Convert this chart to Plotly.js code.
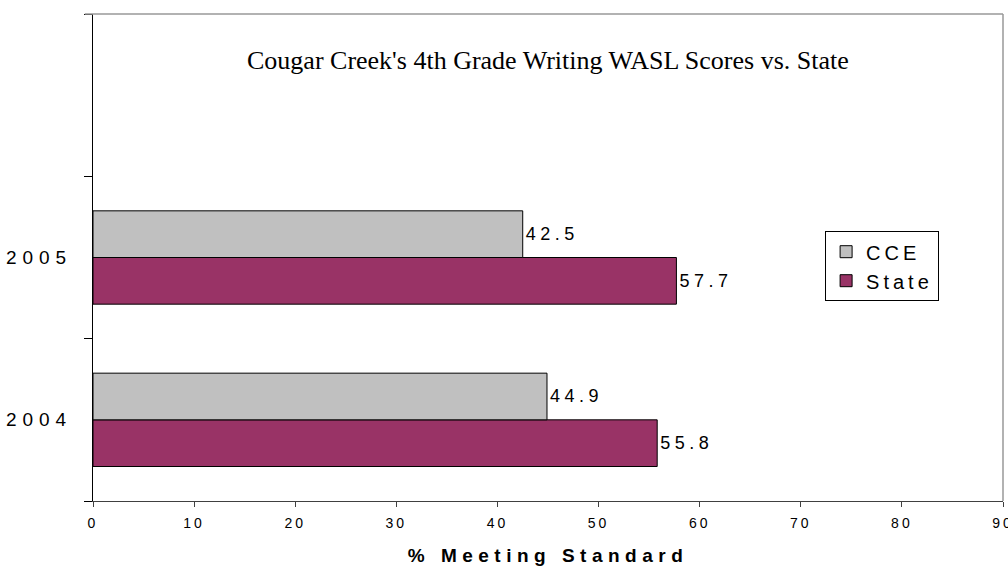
<!DOCTYPE html>
<html>
<head>
<meta charset="utf-8">
<script src="https://cdn.plot.ly/plotly-3.0.1.min.js"></script>
<style>
  html, body { margin: 0; padding: 0; background: #fff; }
  #chart { width: 1008px; height: 569px; }
  .bartext { letter-spacing: 4.5px; }
  .ytick text { letter-spacing: 6px; }
  .xtick text { letter-spacing: 3px; }
  .legendtext { letter-spacing: 4px; }
  .g-xtitle text { letter-spacing: 5.5px; }
</style>
</head>
<body>
<div id="chart"></div>
<script>
// Data
const years = ['2004', '2005'];
const cceScores = [44.9, 42.5];
const stateScores = [55.8, 57.7];
const seriesNames = ['CCE', 'State'];
const xTickVals = [0, 10, 20, 30, 40, 50, 60, 70, 80, 90];

const yIdx = years.map((_, i) => i);
const sans = 'Liberation Sans, Arial, sans-serif';

const traces = [
  {
    type: 'bar', orientation: 'h', name: seriesNames[1],
    y: yIdx, x: stateScores,
    marker: { color: '#993366', line: { color: '#000', width: 1 } },
    text: stateScores.map(v => v.toFixed(1)), textposition: 'outside',
    textfont: { family: sans, size: 18, color: '#000' },
    cliponaxis: false, hoverinfo: 'skip'
  },
  {
    type: 'bar', orientation: 'h', name: seriesNames[0],
    y: yIdx, x: cceScores,
    marker: { color: '#C0C0C0', line: { color: '#000', width: 1 } },
    text: cceScores.map(v => v.toFixed(1)), textposition: 'outside',
    textfont: { family: sans, size: 18, color: '#000' },
    cliponaxis: false, hoverinfo: 'skip'
  }
];

const layout = {
  width: 1008, height: 569,
  margin: { l: 93, r: 5, t: 14, b: 68, pad: 0 },
  paper_bgcolor: '#fff', plot_bgcolor: '#fff',
  barmode: 'group', bargap: 0.425, bargroupgap: 0,
  showlegend: true,
  legend: {
    x: 0.8045, y: 0.554, xanchor: 'left', yanchor: 'top',
    bordercolor: '#000', borderwidth: 1, bgcolor: '#fff',
    traceorder: 'reversed',
    font: { family: sans, size: 20, color: '#000' },
    itemwidth: 30, tracegroupgap: 0
  },
  annotations: [{
    text: "Cougar Creek's 4th Grade Writing WASL Scores vs. State",
    xref: 'paper', yref: 'paper', x: 0.5, y: 0.905,
    xanchor: 'center', yanchor: 'middle', showarrow: false,
    font: { family: 'Liberation Serif, Times New Roman, serif', size: 26, color: '#000' }
  }],
  xaxis: {
    range: [0, 90], tickvals: xTickVals, ticktext: xTickVals.map(String),
    ticks: 'outside', ticklen: 5, tickcolor: '#404040', tickwidth: 1,
    showline: true, linecolor: '#404040', linewidth: 1,
    showgrid: false, zeroline: false,
    ticklabeloverflow: 'allow', ticklabelstandoff: 4,
    tickfont: { family: sans, size: 14, color: '#000' },
    title: { text: '<b>% Meeting Standard</b>', font: { family: sans, size: 19, color: '#000' }, standoff: 18 },
    fixedrange: true
  },
  yaxis: {
    range: [-0.5, 2.5], tickvals: yIdx, ticktext: years,
    ticks: '', showline: true, linecolor: '#000', linewidth: 1,
    showgrid: false, zeroline: false,
    tickfont: { family: sans, size: 19, color: '#000' },
    ticklabelstandoff: 16,
    minor: { tick0: -0.5, dtick: 1, ticks: 'outside', ticklen: 8, tickcolor: '#000', tickwidth: 1, showgrid: false },
    fixedrange: true
  },
  shapes: [
    { type: 'line', xref: 'paper', yref: 'paper', x0: -0.009, x1: 1, y0: 1, y1: 1, line: { color: '#999', width: 1.5 } },
    { type: 'line', xref: 'paper', yref: 'paper', x0: 1, x1: 1, y0: 0, y1: 1, line: { color: '#999', width: 1.5 } }
  ]
};

Plotly.newPlot('chart', traces, layout, { displayModeBar: false, staticPlot: true });
</script>
</body>
</html>
